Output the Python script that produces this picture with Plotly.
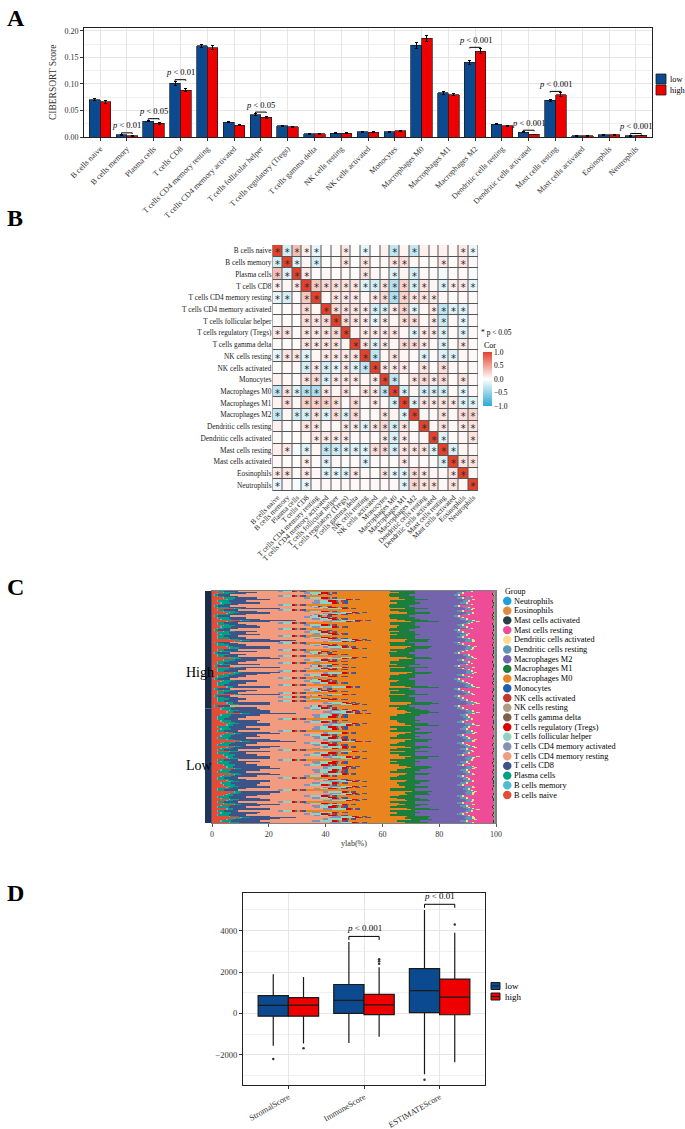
import plotly.graph_objects as go

W, H = 685, 1129
FONT = "Liberation Serif"

def px(v):
    return v / W

def py(v):
    return 1 - v / H

# ---------------- data ----------------
CELLS = ["B cells naive", "B cells memory", "Plasma cells", "T cells CD8",
         "T cells CD4 memory resting", "T cells CD4 memory activated",
         "T cells follicular helper", "T cells regulatory (Tregs)",
         "T cells gamma delta", "NK cells resting", "NK cells activated",
         "Monocytes", "Macrophages M0", "Macrophages M1", "Macrophages M2",
         "Dendritic cells resting", "Dendritic cells activated",
         "Mast cells resting", "Mast cells activated", "Eosinophils", "Neutrophils"]

# Panel A: mean CIBERSORT score and standard error
LOW_MEAN = [0.070, 0.004, 0.030, 0.101, 0.172, 0.028, 0.042, 0.021, 0.006, 0.007, 0.010,
            0.010, 0.173, 0.083, 0.141, 0.024, 0.009, 0.069, 0.002, 0.004, 0.002]
HIGH_MEAN = [0.066, 0.002, 0.026, 0.088, 0.168, 0.022, 0.037, 0.019, 0.006, 0.007, 0.009,
             0.012, 0.186, 0.080, 0.162, 0.021, 0.005, 0.080, 0.002, 0.004, 0.003]
LOW_SE = [0.002, 0.0008, 0.0015, 0.004, 0.003, 0.0015, 0.002, 0.001, 0.0006, 0.0006, 0.0008,
          0.0012, 0.006, 0.002, 0.004, 0.001, 0.0008, 0.002, 0.0003, 0.0005, 0.0004]
HIGH_SE = [0.002, 0.0006, 0.0015, 0.003, 0.004, 0.0012, 0.002, 0.001, 0.0006, 0.0006, 0.0008,
           0.0012, 0.006, 0.002, 0.004, 0.001, 0.0006, 0.003, 0.0003, 0.0005, 0.0005]
A_SIG_IDX = [1, 2, 3, 6, 14, 16, 17, 20]
A_SIG_TEXT = ["p < 0.01", "p < 0.05", "p < 0.01", "p < 0.05",
              "p < 0.001", "p < 0.001", "p < 0.001", "p < 0.001"]

# Panel B: correlation (upper triangle, row i holds j = i+1 .. 20) and significant pairs
CORR_UPPER = [
    [-0.20, 0.35, 0.10, -0.12, 0.02, 0.03, 0.12, 0.02, -0.12, 0.02, 0.08, -0.30, 0.06, -0.28, 0.08, 0.04, 0.08, 0.03, 0.12, -0.10],
    [-0.15, 0.05, -0.20, 0.02, 0.03, 0.15, 0.02, 0.15, 0.03, 0.05, 0.15, 0.18, 0.05, 0.03, 0.02, 0.12, 0.02, 0.15, 0.04],
    [0.12, 0.03, 0.04, 0.02, 0.03, 0.02, 0.15, 0.04, 0.03, -0.15, 0.05, -0.20, 0.03, 0.02, -0.05, 0.02, 0.03, -0.04],
    [0.30, 0.20, 0.18, 0.15, 0.15, -0.15, -0.20, 0.15, -0.35, 0.25, -0.20, 0.15, 0.05, -0.15, 0.10, 0.12, -0.12],
    [0.05, 0.15, 0.12, 0.12, 0.05, 0.12, 0.20, -0.40, 0.25, 0.15, 0.15, 0.12, 0.05, 0.03, 0.04, 0.03],
    [0.20, 0.15, 0.15, 0.12, -0.20, -0.18, 0.12, 0.25, -0.15, 0.05, 0.12, -0.30, -0.15, -0.15, 0.04],
    [0.20, 0.15, 0.12, -0.12, 0.12, 0.06, 0.18, 0.18, 0.05, 0.12, -0.25, 0.04, -0.12, 0.03],
    [0.06, 0.12, 0.12, 0.12, 0.15, 0.05, -0.15, 0.12, 0.12, -0.15, 0.03, -0.15, 0.04],
    [0.15, -0.15, 0.12, 0.05, 0.20, 0.20, 0.12, 0.04, -0.15, 0.03, 0.12, 0.03],
    [-0.30, 0.05, 0.15, 0.05, 0.04, -0.15, 0.03, -0.15, -0.15, 0.04, 0.03],
    [0.12, 0.12, 0.12, 0.04, 0.15, 0.03, 0.18, 0.04, 0.03, 0.04],
    [-0.30, 0.05, 0.15, 0.20, 0.12, 0.20, 0.03, 0.15, 0.04],
    [-0.20, 0.06, -0.20, -0.18, -0.20, 0.03, -0.12, 0.04],
    [-0.15, 0.15, 0.12, 0.15, 0.12, -0.15, -0.15],
    [0.05, 0.04, 0.15, 0.04, 0.18, 0.22],
    [0.05, 0.15, 0.03, 0.12, 0.15],
    [-0.15, 0.03, 0.05, 0.15],
    [-0.18, 0.05, 0.04],
    [0.15, 0.15],
    [0.05],
]
SIG_UPPER = [
    [1, 2, 3, 4, 7, 9, 12, 14, 19, 20],
    [2, 4, 7, 9, 12, 13, 17, 19],
    [3, 9, 12, 14],
    [4, 5, 6, 7, 8, 9, 10, 11, 12, 13, 14, 15, 17, 18, 19, 20],
    [6, 7, 8, 10, 11, 12, 13, 14, 15, 16],
    [6, 7, 8, 9, 10, 11, 12, 13, 14, 16, 17, 18, 19],
    [7, 8, 9, 10, 11, 13, 14, 16, 17, 19],
    [9, 10, 11, 12, 14, 15, 16, 17, 19],
    [9, 10, 11, 13, 14, 15, 17, 19],
    [10, 12, 15, 17, 18],
    [11, 12, 13, 15, 17],
    [12, 14, 15, 16, 17, 19],
    [13, 15, 16, 17, 19],
    [14, 15, 16, 17, 18, 19, 20],
    [17, 19, 20],
    [17, 19, 20],
    [17, 20],
    [18],
    [19, 20],
    [],
]

# Panel C: representative sample compositions (%) and sample order per group
PROFILES = [
    [3, 0.5, 3, 10, 18, 3, 4, 2, 0.5, 1, 1, 1, 17, 8, 14, 2, 0.5, 9, 0.2, 0.3, 0.3],
    [8, 0.3, 2, 14, 15, 2, 5, 2, 0.5, 0.5, 1, 1, 20, 7, 12, 3, 1, 6, 0.2, 0.3, 0.2],
    [2, 0.2, 4, 6, 24, 2, 3, 3, 0.5, 1, 1, 1.5, 15, 9, 17, 2, 0.5, 8, 0.3, 0.5, 0.3],
    [10, 0.5, 3, 16, 12, 4, 5, 2, 1, 0.5, 1, 1, 12, 8, 13, 2.5, 1, 7, 0.2, 0.2, 0.1],
    [2, 0.3, 2, 5, 14, 2, 3, 1.5, 0.5, 1, 1, 1, 30, 9, 18, 2, 0.5, 7.5, 0.2, 0.4, 0.1],
    [6, 0.4, 3, 11, 22, 3, 4, 2, 0.7, 0.7, 0.8, 1, 14, 8, 13, 2, 0.6, 7, 0.3, 0.3, 0.2],
    [4, 0.2, 4, 8, 17, 2, 4, 2.5, 0.5, 0.8, 1.2, 0.8, 22, 6, 15, 2, 0.4, 11, 0.1, 0.3, 0.2],
    [5, 0.6, 2, 13, 19, 3, 5, 2, 0.6, 0.5, 0.9, 1.2, 18, 10, 12, 2.5, 1, 4, 0.2, 0.2, 0.3],
    [1, 0.2, 1, 4, 28, 1, 2, 1, 0.3, 2, 0.5, 1, 20, 7, 16, 1.5, 0.3, 12, 0.2, 0.5, 0.1],
    [12, 1, 5, 18, 10, 5, 6, 3, 1, 1, 1.5, 1, 10, 9, 9, 3, 1.5, 5, 0.3, 0.2, 0.2],
]
HIGH_SEQ = ("4162849637250148213469572816203974265014836210462593184627153406872459"
            "1632470813627491562348160254379865247318462041795836")
LOW_SEQ = ("0357930527431065379250347136052713960253170435216973541023657130972513"
           "6042753016537249135762103574613025794306259317053")
C_COLORS = ["#E64B35", "#4DBBD5", "#00A087", "#3C5488", "#F39B7F", "#8491B4", "#91D1C2",
            "#DC0000", "#7E6148", "#B09C85", "#C0392B", "#1F5FAF", "#E9841E", "#1B7F3B",
            "#7463AD", "#5F96B3", "#FDDC8C", "#EE4C97", "#283F47", "#E38B3A", "#1FA0D9"]

# Panel D: ESTIMATE score box statistics
D_CATS = ["StromalScore", "ImmuneScore", "ESTIMATEScore"]
LOW_Q1 = [-130, 10, 40]
LOW_MED = [390, 630, 1100]
LOW_Q3 = [860, 1400, 2170]
LOW_LO = [-1550, -1420, -2930]
LOW_HI = [1900, 3450, 5000]
HIGH_Q1 = [-130, -50, -60]
HIGH_MED = [400, 420, 790]
HIGH_Q3 = [770, 920, 1660]
HIGH_LO = [-1450, -1120, -2350]
HIGH_HI = [1760, 2230, 3900]
LOW_OUT_CAT = [0, 2]
LOW_OUT_VAL = [-2200, -3200]
HIGH_OUT_CAT = [0, 1, 1, 1, 2]
HIGH_OUT_VAL = [-1680, 2400, 2520, 2620, 4300]
D_SIG_IDX = [1, 2]
D_SIG_TEXT = ["p < 0.001", "p < 0.01"]

LOW_COL = "#0B4A8E"
HIGH_COL = "#EE0000"

fig = go.Figure()
shapes = []
annos = []

# ---------------- Panel A ----------------
n = len(CELLS)
fig.add_trace(go.Bar(x=[i - 0.2 for i in range(n)], y=LOW_MEAN, width=0.4, name="low",
                     marker=dict(color=LOW_COL, line=dict(color="#1a1a1a", width=0.7)),
                     error_y=dict(type="data", array=LOW_SE, color="black", thickness=1, width=1.5),
                     xaxis="x", yaxis="y", showlegend=False))
fig.add_trace(go.Bar(x=[i + 0.2 for i in range(n)], y=HIGH_MEAN, width=0.4, name="high",
                     marker=dict(color=HIGH_COL, line=dict(color="#1a1a1a", width=0.7)),
                     error_y=dict(type="data", array=HIGH_SE, color="black", thickness=1, width=1.5),
                     xaxis="x", yaxis="y", showlegend=False))
for idx, txt in zip(A_SIG_IDX, A_SIG_TEXT):
    top = max(LOW_MEAN[idx] + LOW_SE[idx], HIGH_MEAN[idx] + HIGH_SE[idx]) + 0.003
    leg = 0.002
    shapes.append(dict(type="path", xref="x", yref="y",
                       path=f"M {idx-0.2},{top-leg} L {idx-0.2},{top} L {idx+0.2},{top} L {idx+0.2},{top-leg}",
                       line=dict(color="black", width=1)))
    annos.append(dict(xref="x", yref="y", x=idx, y=top + 0.001, yanchor="bottom", showarrow=False,
                      text=txt.replace("p <", "<i>p</i> &lt;"), font=dict(size=8.5, family=FONT, color="black")))
# legend A
for k, (lab, col) in enumerate([("low", LOW_COL), ("high", HIGH_COL)]):
    y0 = 74 + k * 11
    shapes.append(dict(type="rect", xref="paper", yref="paper", x0=px(656), x1=px(666),
                       y0=py(y0), y1=py(y0 + 10), fillcolor=col, line=dict(color="#1a1a1a", width=0.8)))
    annos.append(dict(xref="paper", yref="paper", x=px(668), y=py(y0 + 5), xanchor="left",
                      yanchor="middle", showarrow=False, text=lab,
                      font=dict(size=8.3, family=FONT, color="black")))

# ---------------- Panel B ----------------
corr = [[0.0] * n for _ in range(n)]
sig = [[False] * n for _ in range(n)]
for i in range(n):
    corr[i][i] = 1.0
    sig[i][i] = True
for i, row in enumerate(CORR_UPPER):
    for k, v in enumerate(row):
        j = i + 1 + k
        corr[i][j] = v
        corr[j][i] = v
for i, cols in enumerate(SIG_UPPER):
    for j in cols:
        sig[i][j] = True
        sig[j][i] = True

shapes.append(dict(type="rect", xref="x2", yref="y2", x0=-0.5, x1=n - 0.5, y0=-0.5, y1=n - 0.5,
                   fillcolor="#555555", line=dict(color="#555555", width=1), layer="below"))
fig.add_trace(go.Heatmap(z=corr, x=list(range(n)), y=list(range(n)), zmin=-1, zmax=1,
                         colorscale=[[0, "#2AA9D2"], [0.5, "#FFFFFF"], [1, "#E3412C"]],
                         xgap=1, ygap=1, xaxis="x2", yaxis="y2", hoverinfo="skip",
                         colorbar=dict(x=px(483), xanchor="left", y=py(406), yanchor="bottom",
                                       len=54 / H, lenmode="fraction", thickness=9, outlinewidth=0,
                                       ypad=0, xpad=0,
                                       tickvals=[-1, -0.5, 0, 0.5, 1], tickformat=".1f",
                                       tickfont=dict(size=7.5, family=FONT), ticklen=0)))
sx, sy = [], []
for i in range(n):
    for j in range(n):
        if sig[i][j]:
            sx.append(j)
            sy.append(i)
fig.add_trace(go.Scatter(x=sx, y=[v + 0.24 for v in sy], mode="text", text=["*"] * len(sx),
                         textfont=dict(size=10, family="DejaVu Sans", color="#2b2b2b"),
                         xaxis="x2", yaxis="y2", showlegend=False, hoverinfo="skip"))
annos.append(dict(xref="paper", yref="paper", x=px(479), y=py(332), xanchor="left", yanchor="middle",
                  showarrow=False, text="* p &lt; 0.05", font=dict(size=7.5, family=FONT, color="black")))
annos.append(dict(xref="paper", yref="paper", x=px(482), y=py(345), xanchor="left", yanchor="middle",
                  showarrow=False, text="Cor", font=dict(size=8, family=FONT, color="black")))

# ---------------- Panel C ----------------
samples = [int(c) for c in HIGH_SEQ] + [int(c) for c in LOW_SEQ]
n_high = len(HIGH_SEQ)
pct_rows = []
for p in samples:
    tot = sum(PROFILES[p])
    pct_rows.append([v * 100.0 / tot for v in PROFILES[p]])
ys = list(range(len(samples)))
for c in range(n):
    fig.add_trace(go.Bar(y=ys, x=[r[c] for r in pct_rows], orientation="h", width=1.0,
                         marker=dict(color=C_COLORS[c], line=dict(width=0)),
                         xaxis="x3", yaxis="y3", showlegend=False, hoverinfo="skip"))
# group strip
shapes.append(dict(type="rect", xref="paper", yref="y3", x0=px(205), x1=px(211.5),
                   y0=-0.5, y1=n_high - 0.5, fillcolor="#1C2B4A", line=dict(width=0)))
shapes.append(dict(type="rect", xref="paper", yref="y3", x0=px(205), x1=px(211.5),
                   y0=n_high - 0.5, y1=len(samples) - 0.5, fillcolor="#1F3560", line=dict(width=0)))
annos.append(dict(xref="paper", yref="paper", x=px(184), y=py(672), showarrow=False,
                  text="High", font=dict(size=14, family=FONT, color="black")))
annos.append(dict(xref="paper", yref="paper", x=px(184), y=py(775),
                  showarrow=False, text="Low", font=dict(size=14, family=FONT, color="black")))
# legend C
annos.append(dict(xref="paper", yref="paper", x=px(503), y=py(591), xanchor="left", yanchor="middle",
                  showarrow=False, text="Group", font=dict(size=8, family=FONT, color="black")))
for k, c in enumerate(reversed(range(n))):
    yc = 601 + k * 9.7
    shapes.append(dict(type="circle", xref="paper", yref="paper", x0=px(503), x1=px(511.5),
                       y0=py(yc - 4.2), y1=py(yc + 4.2), fillcolor=C_COLORS[c], line=dict(width=0)))
    annos.append(dict(xref="paper", yref="paper", x=px(512), y=py(yc), xanchor="left", yanchor="middle",
                      showarrow=False, text=CELLS[c], font=dict(size=8.3, family=FONT, color="black")))

# ---------------- Panel D ----------------
fig.add_trace(go.Box(x=[i - 0.2 for i in range(3)], q1=LOW_Q1, median=LOW_MED, q3=LOW_Q3,
                     lowerfence=LOW_LO, upperfence=LOW_HI, width=0.4, whiskerwidth=0,
                     fillcolor=LOW_COL, line=dict(color="#1a1a1a", width=1.2),
                     boxpoints=False, xaxis="x4", yaxis="y4", showlegend=False, hoverinfo="skip"))
fig.add_trace(go.Box(x=[i + 0.2 for i in range(3)], q1=HIGH_Q1, median=HIGH_MED, q3=HIGH_Q3,
                     lowerfence=HIGH_LO, upperfence=HIGH_HI, width=0.4, whiskerwidth=0,
                     fillcolor=HIGH_COL, line=dict(color="#1a1a1a", width=1.2),
                     boxpoints=False, xaxis="x4", yaxis="y4", showlegend=False, hoverinfo="skip"))
fig.add_trace(go.Scatter(x=[c - 0.2 for c in LOW_OUT_CAT], y=LOW_OUT_VAL, mode="markers",
                         marker=dict(size=2.5, color="#333333"), xaxis="x4", yaxis="y4",
                         showlegend=False, hoverinfo="skip"))
fig.add_trace(go.Scatter(x=[c + 0.2 for c in HIGH_OUT_CAT], y=HIGH_OUT_VAL, mode="markers",
                         marker=dict(size=2.5, color="#333333"), xaxis="x4", yaxis="y4",
                         showlegend=False, hoverinfo="skip"))
for idx, txt in zip(D_SIG_IDX, D_SIG_TEXT):
    top = max(LOW_HI[idx], HIGH_HI[idx]) + 270
    leg = 170
    shapes.append(dict(type="path", xref="x4", yref="y4",
                       path=f"M {idx-0.2},{top-leg} L {idx-0.2},{top} L {idx+0.2},{top} L {idx+0.2},{top-leg}",
                       line=dict(color="black", width=1)))
    annos.append(dict(xref="x4", yref="y4", x=idx, y=top + 60, yanchor="bottom", showarrow=False,
                      text=txt.replace("p <", "<i>p</i> &lt;"), font=dict(size=9, family=FONT, color="black")))
# legend D
for k, (lab, col) in enumerate([("low", LOW_COL), ("high", HIGH_COL)]):
    yc = 986 + k * 10.5
    shapes.append(dict(type="rect", xref="paper", yref="paper", x0=px(491), x1=px(500),
                       y0=py(yc - 3.5), y1=py(yc + 3.5), fillcolor=col, line=dict(color="#1a1a1a", width=1)))
    shapes.append(dict(type="line", xref="paper", yref="paper", x0=px(491), x1=px(500),
                       y0=py(yc), y1=py(yc), line=dict(color="#1a1a1a", width=1)))
    annos.append(dict(xref="paper", yref="paper", x=px(503), y=py(yc), xanchor="left", yanchor="middle",
                      showarrow=False, text=lab, font=dict(size=9, family=FONT, color="black")))

# panel letters
for lab, yy in [("A", 18), ("B", 218), ("C", 587), ("D", 893)]:
    annos.append(dict(xref="paper", yref="paper", x=px(5), y=py(yy), xanchor="left", yanchor="middle",
                      showarrow=False, text=f"<b>{lab}</b>", font=dict(size=24, family=FONT, color="black")))

grid = "#E6E6E6"
tickf = dict(size=8, family=FONT, color="#333333")
fig.update_layout(
    width=W, height=H, margin=dict(l=0, r=0, t=0, b=0, pad=0, autoexpand=False), autosize=False,
    paper_bgcolor="white", plot_bgcolor="white", barmode="stack", boxmode="overlay",
    font=dict(family=FONT, color="black"), shapes=shapes, annotations=annos, showlegend=False,
    xaxis=dict(domain=[px(84), px(652)], anchor="y", range=[-0.6, n - 0.4], automargin=False,
               tickvals=list(range(n)), ticktext=CELLS, tickangle=-45, tickfont=tickf,
               showgrid=True, gridcolor=grid, zeroline=False, showline=True, mirror=True,
               linecolor="#222222", linewidth=1, ticks="outside", ticklen=3, tickcolor="#333333"),
    yaxis=dict(domain=[py(137), py(27.5)], anchor="x", range=[0, 0.2064], dtick=0.05, tickformat=".2f",
               automargin=False,
               tickfont=tickf, showgrid=True, gridcolor=grid, zeroline=False, showline=True, mirror=True,
               linecolor="#222222", linewidth=1, ticks="outside", ticklen=3, tickcolor="#333333",
               minor=dict(dtick=0.025, showgrid=True, gridcolor="#F0F0F0"),
               title=dict(text="CIBERSORT Score", font=dict(size=9.5, family=FONT, color="#333333"), standoff=6)),
    xaxis2=dict(domain=[px(272.5), px(478)], anchor="y2", range=[-0.5, n - 0.5], automargin=False,
                tickvals=list(range(n)), ticktext=CELLS, tickangle=-45,
                tickfont=dict(size=7.3, family=FONT, color="#222222"),
                showgrid=False, zeroline=False, showline=False, ticks=""),
    yaxis2=dict(domain=[py(491), py(245)], anchor="x2", range=[n - 0.5, -0.5], automargin=False,
                tickvals=list(range(n)), ticktext=CELLS,
                tickfont=dict(size=7.3, family=FONT, color="#222222"),
                showgrid=False, zeroline=False, showline=False, ticks=""),
    xaxis3=dict(domain=[px(212), px(496)], anchor="y3", range=[0, 100], dtick=20, tickfont=tickf,
                automargin=False,
                showgrid=False, zeroline=False, showline=True, mirror=True, linecolor="#808080",
                linewidth=1, ticks="outside", ticklen=3, tickcolor="#555555",
                title=dict(text="ylab(%)", font=dict(size=8, family=FONT, color="#333333"), standoff=2)),
    yaxis3=dict(domain=[py(823), py(591)], anchor="x3", range=[len(samples) - 0.5, -0.5],
                automargin=False,
                showticklabels=False, showgrid=False, zeroline=False, showline=True, mirror=True,
                linecolor="#808080", ticks=""),
    xaxis4=dict(domain=[px(243), px(485)], anchor="y4", range=[-0.6, 2.6], tickvals=[0, 1, 2],
                automargin=False,
                ticktext=D_CATS, tickangle=-30, tickfont=dict(size=8.3, family=FONT, color="#333333"),
                showgrid=True, gridcolor=grid, zeroline=False, showline=True, mirror=True,
                linecolor="#222222", linewidth=1, ticks="outside", ticklen=3, tickcolor="#333333"),
    yaxis4=dict(domain=[py(1085), py(893)], anchor="x4", range=[-3450, 5815], dtick=2000,
                automargin=False,
                tickfont=dict(size=8.5, family=FONT, color="#333333"), showgrid=True, gridcolor=grid,
                zeroline=False, showline=True, mirror=True, linecolor="#222222", linewidth=1,
                ticks="outside", ticklen=3, tickcolor="#333333",
                minor=dict(dtick=1000, showgrid=True, gridcolor="#F0F0F0")),
)

fig.write_html("out.html", config={"displayModeBar": False},
               post_script="document.body.style.margin='0px';document.body.style.overflow='hidden';")
